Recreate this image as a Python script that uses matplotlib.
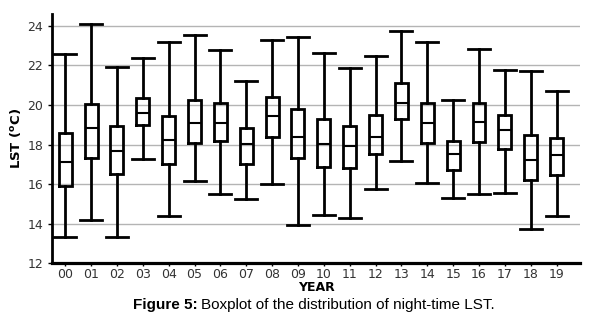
import matplotlib
matplotlib.use("Agg")
import matplotlib.pyplot as plt

# night-time LST per year
years = ['00', '01', '02', '03', '04', '05', '06', '07', '08', '09',
         '10', '11', '12', '13', '14', '15', '16', '17', '18', '19']
lo  = [13.32, 14.19, 13.32, 17.28, 14.40, 16.15, 15.48, 15.26, 16.03, 13.94,
       14.46, 14.31, 15.76, 17.16, 16.07, 15.31, 15.48, 15.56, 13.72, 14.41]
q1  = [15.90, 17.32, 16.51, 19.00, 17.01, 18.06, 18.18, 17.01, 18.38, 17.30,
       16.88, 16.79, 17.50, 19.27, 18.06, 16.71, 18.14, 17.76, 16.22, 16.44]
med = [17.10, 18.84, 17.69, 19.58, 18.24, 19.11, 19.11, 18.03, 19.43, 18.38,
       18.03, 17.94, 18.36, 20.10, 19.07, 17.52, 19.12, 18.72, 17.23, 17.45]
q3  = [18.58, 20.03, 18.92, 20.35, 19.44, 20.24, 20.12, 18.82, 20.39, 19.80,
       19.29, 18.95, 19.48, 21.10, 20.10, 18.18, 20.10, 19.48, 18.50, 18.31]
hi  = [22.57, 24.07, 21.91, 22.38, 23.19, 23.53, 22.80, 21.20, 23.27, 23.44,
       22.62, 21.86, 22.45, 23.73, 23.19, 20.27, 22.82, 21.77, 21.74, 20.73]

stats = []
for i in range(len(years)):
    stats.append({'whislo': lo[i], 'q1': q1[i], 'med': med[i],
                  'q3': q3[i], 'whishi': hi[i], 'fliers': [], 'label': years[i]})

fig = plt.figure(figsize=(5.99, 3.31), dpi=100)
ax = fig.add_axes([0.0873, 0.2045, 0.8807, 0.7535])

ax.bxp(stats, widths=0.5, capwidths=0.85, showfliers=False,
       boxprops=dict(color='black', linewidth=2, solid_joinstyle='miter'),
       whiskerprops=dict(color='black', linewidth=2),
       capprops=dict(color='black', linewidth=2),
       medianprops=dict(color='black', linewidth=1.5))

ax.set_xlim(0.5, 20.9)
ax.set_ylim(12, 24.6)
ax.set_yticks([12, 14, 16, 18, 20, 22, 24])
ax.grid(axis='y', color='#b4b4b4', linewidth=1)
ax.set_axisbelow(True)

for s in ['top', 'right']:
    ax.spines[s].set_visible(False)
ax.spines['left'].set_linewidth(2)
ax.spines['bottom'].set_linewidth(2.3)
ax.tick_params(axis='both', labelsize=9, labelcolor='#333333', length=3, width=1)
ax.tick_params(axis='x', length=2, pad=1.5)

ax.set_ylabel(r'LST ($\mathbf{^o}$C)', fontsize=9.5, fontweight='bold', labelpad=3)
ax.set_xlabel('YEAR', fontsize=9, fontweight='bold', labelpad=0)

fig.canvas.draw()
t1 = fig.text(133 / 599, 1 - 305 / 331, 'Figure 5:', fontsize=11, fontweight='bold',
              family='Liberation Sans', va='center', ha='left')
fig.canvas.draw()
bb = t1.get_window_extent()
fig.text((bb.x1 + 3) / 599, 1 - 305 / 331, 'Boxplot of the distribution of night-time LST.',
         fontsize=11, family='Liberation Sans', va='center', ha='left')

fig.savefig('out.png', dpi=100)
